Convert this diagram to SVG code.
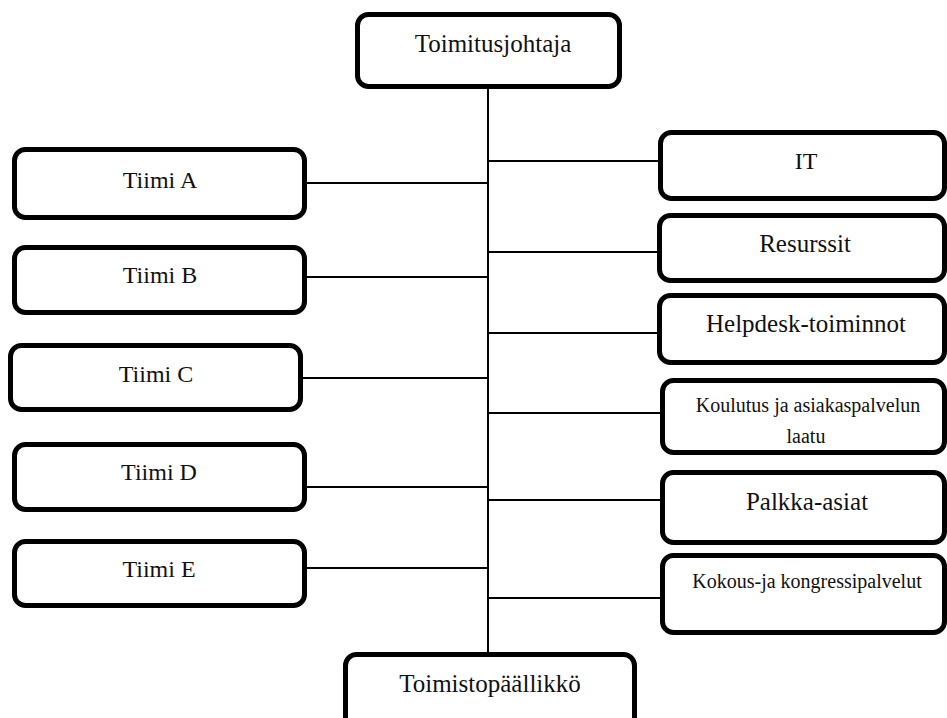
<svg xmlns="http://www.w3.org/2000/svg" width="947" height="718" viewBox="0 0 947 718">
  <style>
    .box { fill: #ffffff; stroke: #000000; stroke-width: 5; }
    .lbl { fill: #111111; text-anchor: middle; font-family: 'Liberation Serif', 'Times New Roman', serif; }
    .l24 { font-size: 24px; }
    .l25 { font-size: 25px; }
    .l20 { font-size: 20px; }
    .wire { stroke: #000000; stroke-width: 2; fill: none; }
  </style>
  <rect width="947" height="718" fill="#ffffff"/>

  <!-- connectors: central spine plus one branch per unit -->
  <g id="connectors">
    <line class="wire" x1="488" y1="88" x2="488" y2="652"/>
    <!-- left branches -->
    <line class="wire" x1="306" y1="183" x2="488" y2="183"/>
    <line class="wire" x1="306" y1="277" x2="488" y2="277"/>
    <line class="wire" x1="302" y1="378" x2="488" y2="378"/>
    <line class="wire" x1="306" y1="487" x2="488" y2="487"/>
    <line class="wire" x1="306" y1="568" x2="488" y2="568"/>
    <!-- right branches -->
    <line class="wire" x1="488" y1="161" x2="659" y2="161"/>
    <line class="wire" x1="488" y1="252" x2="658" y2="252"/>
    <line class="wire" x1="488" y1="333" x2="658" y2="333"/>
    <line class="wire" x1="488" y1="413" x2="660" y2="413"/>
    <line class="wire" x1="488" y1="500" x2="660" y2="500"/>
    <line class="wire" x1="488" y1="598" x2="660" y2="598"/>
  </g>

  <g id="toimitusjohtaja">
    <rect class="box" x="357.5" y="14.5" width="262" height="72" rx="11"/>
    <text class="lbl l25" x="493" y="52">Toimitusjohtaja</text>
  </g>

  <g id="tiimi-a">
    <rect class="box" x="14.5" y="149.5" width="290" height="68" rx="11"/>
    <text class="lbl l24" x="160" y="188">Tiimi A</text>
  </g>
  <g id="tiimi-b">
    <rect class="box" x="14.5" y="247.5" width="290" height="65" rx="11"/>
    <text class="lbl l24" x="160" y="283">Tiimi B</text>
  </g>
  <g id="tiimi-c">
    <rect class="box" x="10.5" y="345.5" width="290" height="64" rx="11"/>
    <text class="lbl l24" x="156" y="382">Tiimi C</text>
  </g>
  <g id="tiimi-d">
    <rect class="box" x="14.5" y="444.5" width="290" height="65" rx="11"/>
    <text class="lbl l24" x="159" y="480">Tiimi D</text>
  </g>
  <g id="tiimi-e">
    <rect class="box" x="14.5" y="541.5" width="290" height="64" rx="11"/>
    <text class="lbl l24" x="159" y="577">Tiimi E</text>
  </g>

  <g id="it">
    <rect class="box" x="660.5" y="132.5" width="284" height="66" rx="11"/>
    <text class="lbl l24" x="806" y="169">IT</text>
  </g>
  <g id="resurssit">
    <rect class="box" x="659.5" y="215.5" width="285" height="65" rx="11"/>
    <text class="lbl l25" x="805" y="252">Resurssit</text>
  </g>
  <g id="helpdesk">
    <rect class="box" x="659.5" y="295.5" width="285" height="67" rx="11"/>
    <text class="lbl l25" x="806" y="332">Helpdesk-toiminnot</text>
  </g>
  <g id="koulutus">
    <rect class="box" x="662.5" y="380.5" width="282" height="72" rx="11"/>
    <text class="lbl l20" x="808" y="412">Koulutus ja asiakaspalvelun</text>
    <text class="lbl l20" x="806" y="443">laatu</text>
  </g>
  <g id="palkka">
    <rect class="box" x="662.5" y="472.5" width="282" height="70" rx="11"/>
    <text class="lbl l25" x="807" y="510">Palkka-asiat</text>
  </g>
  <g id="kokous">
    <rect class="box" x="662.5" y="555.5" width="282" height="77" rx="11"/>
    <text class="lbl l20" x="807" y="588">Kokous-ja kongressipalvelut</text>
  </g>

  <g id="toimistopaallikko">
    <rect class="box" x="345.5" y="654.5" width="289" height="76" rx="11"/>
    <text class="lbl l25" x="490" y="692">Toimistopäällikkö</text>
  </g>
</svg>
